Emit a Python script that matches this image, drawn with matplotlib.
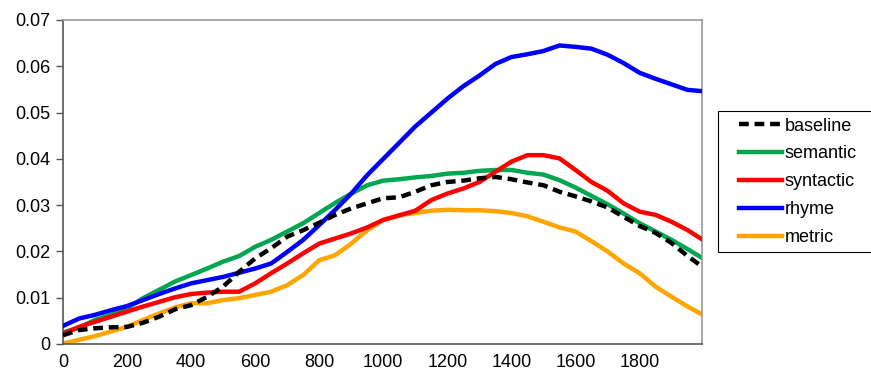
import matplotlib
matplotlib.use("Agg")
import matplotlib.pyplot as plt
from matplotlib.patches import Rectangle

plt.rcParams['font.family'] = ['Liberation Sans', 'DejaVu Sans']

x = [0, 50, 100, 150, 200, 250, 300, 350, 400, 450, 500, 550, 600, 650, 700, 750, 800,
     850, 900, 950, 1000, 1050, 1100, 1150, 1200, 1250, 1300, 1350, 1400, 1450, 1500,
     1550, 1600, 1650, 1700, 1750, 1800, 1850, 1900, 1950, 2000]

baseline = [0.0019, 0.0030, 0.0034, 0.0036, 0.0037, 0.0046, 0.0059, 0.0075, 0.0084, 0.0102, 0.0124,
            0.0156, 0.0185, 0.0207, 0.0232, 0.0246, 0.0262, 0.0279, 0.0293, 0.0304, 0.0315,
            0.0317, 0.0329, 0.0343, 0.0350, 0.0353, 0.0358, 0.0361, 0.0356, 0.0349, 0.0343,
            0.0329, 0.0319, 0.0308, 0.0295, 0.0275, 0.0255, 0.0240, 0.0218, 0.0190, 0.0165]
semantic = [0.0025, 0.0035, 0.0052, 0.0063, 0.0077, 0.0099, 0.0117, 0.0135, 0.0149, 0.0163, 0.0178,
            0.0190, 0.0210, 0.0225, 0.0243, 0.0261, 0.0283, 0.0305, 0.0325, 0.0343, 0.0353,
            0.0356, 0.0360, 0.0363, 0.0368, 0.0370, 0.0374, 0.0376, 0.0376, 0.0370, 0.0366,
            0.0354, 0.0338, 0.0320, 0.0302, 0.0282, 0.0261, 0.0243, 0.0225, 0.0205, 0.0184]
syntactic = [0.0022, 0.0037, 0.0048, 0.0059, 0.0070, 0.0081, 0.0091, 0.0101, 0.0108, 0.0111, 0.0113,
             0.0113, 0.0131, 0.0153, 0.0174, 0.0196, 0.0217, 0.0228, 0.0239, 0.0252, 0.0268,
             0.0278, 0.0288, 0.0311, 0.0325, 0.0336, 0.0350, 0.0372, 0.0394, 0.0408, 0.0408,
             0.0401, 0.0376, 0.0350, 0.0331, 0.0304, 0.0286, 0.0279, 0.0264, 0.0246, 0.0224]
rhyme = [0.0039, 0.0055, 0.0063, 0.0073, 0.0082, 0.0095, 0.0108, 0.0120, 0.0131, 0.0138, 0.0145,
         0.0154, 0.0163, 0.0174, 0.0199, 0.0225, 0.0257, 0.0290, 0.0325, 0.0365, 0.0400,
         0.0435, 0.0470, 0.0500, 0.0530, 0.0557, 0.0580, 0.0605, 0.0620, 0.0626, 0.0633,
         0.0645, 0.0642, 0.0638, 0.0625, 0.0607, 0.0586, 0.0573, 0.0561, 0.0549, 0.0546]
metric = [0.0001, 0.0009, 0.0017, 0.0027, 0.0037, 0.0052, 0.0066, 0.0079, 0.0088, 0.0088, 0.0095,
          0.0099, 0.0106, 0.0113, 0.0127, 0.0149, 0.0181, 0.0192, 0.0217, 0.0246, 0.0268,
          0.0278, 0.0283, 0.0288, 0.0290, 0.0289, 0.0289, 0.0287, 0.0283, 0.0276, 0.0264,
          0.0252, 0.0243, 0.0222, 0.0200, 0.0174, 0.0153, 0.0124, 0.0102, 0.0081, 0.0062]

xticks = [0, 200, 400, 600, 800, 1000, 1200, 1400, 1600, 1800]
yticks = [0, 0.01, 0.02, 0.03, 0.04, 0.05, 0.06, 0.07]
ylabels = ["0", "0.01", "0.02", "0.03", "0.04", "0.05", "0.06", "0.07"]

fig = plt.figure(figsize=(8.71, 3.73), dpi=100)
ax = fig.add_axes([63/871, 29/373, 639/871, 324/373])

lw = 3.2
ax.plot(x, baseline, color="black", linewidth=lw, linestyle=(0, (2.2, 1.3)), label="baseline", zorder=6)
ax.plot(x, semantic, color="#00a650", linewidth=lw, label="semantic", zorder=2)
ax.plot(x, syntactic, color="#ff0000", linewidth=lw, label="syntactic", zorder=3)
ax.plot(x, rhyme, color="#0000ff", linewidth=lw, label="rhyme", zorder=4)
ax.plot(x, metric, color="#ffa500", linewidth=lw, label="metric", zorder=1)

ax.set_xlim(0, 1995)
ax.set_ylim(0, 0.07)
ax.set_xticks(xticks)
ax.set_xticklabels([str(t) for t in xticks])
ax.set_yticks(yticks)
ax.set_yticklabels(ylabels)
ax.tick_params(axis='x', length=0, pad=7, labelsize=13)
ax.tick_params(axis='y', length=5, width=1, color="#555555", direction='out', pad=4, labelsize=13)

for side in ['left', 'bottom']:
    ax.spines[side].set_color("#555555")
    ax.spines[side].set_linewidth(1.2)
for side in ['top', 'right']:
    ax.spines[side].set_color("#999999")
    ax.spines[side].set_linewidth(1.2)

# legend frame runs off the right edge of the figure
fig.patches.append(Rectangle((718/871, 1 - 252/373), 0.3, 141/373, transform=fig.transFigure,
                             facecolor="white", edgecolor="black", linewidth=0.8))
fig.legend(loc='upper left', bbox_to_anchor=(735/871, 1 - 114/373),
           fontsize=13, frameon=False, handlelength=2.4, handletextpad=0.15,
           labelspacing=0.6, borderpad=0.2, borderaxespad=0)

fig.savefig("out.png", dpi=100)
